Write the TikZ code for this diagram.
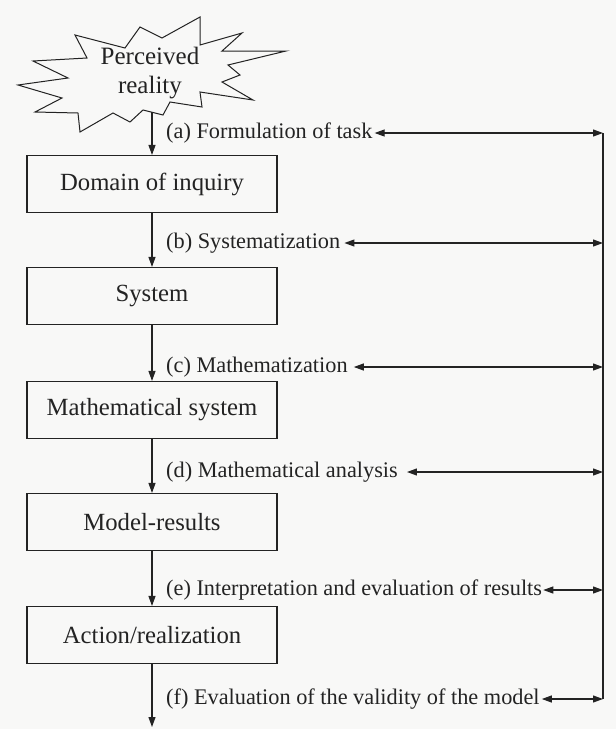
\documentclass[tikz,border=0pt]{standalone}
\usepackage{fontspec}
\setmainfont{Liberation Serif}
\usetikzlibrary{arrows.meta}
\definecolor{ink}{RGB}{35,35,35}
\definecolor{paper}{RGB}{248,248,247}
\tikzset{
  stagebox/.style={draw=ink, line width=1.1pt, minimum width=250pt, minimum height=57pt,
    inner sep=0pt, font=\fontsize{24.7}{28}\selectfont, text=ink},
  steplabel/.style={anchor=west, inner sep=0pt, font=\fontsize{22.3}{26}\selectfont, text=ink},
  flow/.style={draw=ink, line width=1.1pt, -{Triangle[length=10pt,width=7pt]}},
  link/.style={draw=ink, line width=1.1pt, {Triangle[length=10pt,width=7pt]}-{Triangle[length=10pt,width=7pt]}},
  rail/.style={draw=ink, line width=1.1pt}
}
\begin{document}
\begin{tikzpicture}[x=1pt,y=-1pt]
\fill[paper] (0,0) rectangle (616,729);
\useasboundingbox (0,0) rectangle (616,729);
% starburst
\draw[ink, line width=1pt, line join=miter]
 (75,35) -- (125,48) -- (140,27) -- (162,38) -- (200,17) -- (200,45) -- (242,33)
 -- (222,51) -- (286,51) -- (228,65) -- (240,75) -- (222,82) -- (253,100)
 -- (200,92) -- (202,107) -- (170,102) -- (163,115) -- (143,110) -- (130,122)
 -- (113,113) -- (80,132) -- (78,113) -- (35,112) -- (62,98) -- (18,85)
 -- (68,78) -- (33,61) -- (87,58) -- cycle;
\node[align=center, inner sep=0pt, font=\fontsize{25}{29}\selectfont, text=ink] (star) at (150,73) {Perceived\\reality};
\coordinate (starbot) at (152,112);
% boxes
\node[stagebox] (b1) at (152,184) {Domain of inquiry};
\node[stagebox] (b2) at (152,296) {System};
\node[stagebox] (b3) at (152,410) {Mathematical system};
\node[stagebox] (b4) at (152,522) {Model-results};
\node[stagebox] (b5) at (152,635) {Action/realization};
\coordinate (endpt) at (152,727);
% labels
\node[steplabel] (la) at (166,133) {(a) Formulation of task};
\node[steplabel] (lb) at (166,243) {(b) Systematization};
\node[steplabel] (lc) at (166,367) {(c) Mathematization};
\node[steplabel] (ld) at (166,472) {(d) Mathematical analysis};
\node[steplabel] (le) at (166,590) {(e) Interpretation and evaluation of results};
\node[steplabel] (lf) at (166,699) {(f) Evaluation of the validity of the model};
% rail coordinates
\coordinate (ra) at (603,133);
\coordinate (rb) at (603,243);
\coordinate (rc) at (603,367);
\coordinate (rd) at (603,472);
\coordinate (re) at (603,590);
\coordinate (rf) at (603,699);
% vertical flow
\draw[flow] (starbot) -- (b1.north);
\draw[flow] (b1.south) -- (b2.north);
\draw[flow] (b2.south) -- (b3.north);
\draw[flow] (b3.south) -- (b4.north);
\draw[flow] (b4.south) -- (b5.north);
\draw[flow] (b5.south) -- (endpt);
% feedback links
\draw[rail] (ra) -- (rf);
\draw[link] ([xshift=2pt]la.east) -- (ra);
\draw[link] ([xshift=4pt]lb.east) -- (rb);
\draw[link] ([xshift=6pt]lc.east) -- (rc);
\draw[link] ([xshift=9pt]ld.east) -- (rd);
\draw[link] ([xshift=1pt]le.east) -- (re);
\draw[link] ([xshift=2pt]lf.east) -- (rf);
\end{tikzpicture}
\end{document}
